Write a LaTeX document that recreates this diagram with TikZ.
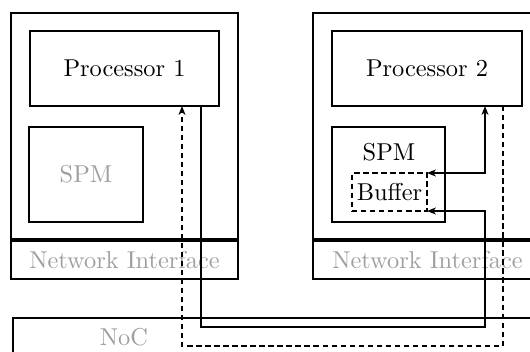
\documentclass[tikz,border=0pt]{standalone}
\usetikzlibrary{fit,arrows.meta}
\begin{document}
\begin{tikzpicture}[
  x=0.41pt, y=-0.41pt,
  box/.style={draw, line width=0.7pt, inner sep=0pt, outer sep=0pt},
  faint/.style={text=black!38},
  conn/.style={line width=0.7pt, >={Stealth[length=3.6pt,width=2.8pt,inset=1pt]}},
  dconn/.style={conn, dash pattern=on 2.2pt off 1.5pt},
]
\useasboundingbox (0,0) rectangle (530,352);
\clip (0,0) rectangle (530,352);

% interconnect
\node[box, fit={(13,318)(560,390)}] (noc) {};
\node[faint] (noclabel) at (124,337) {NoC};

% tile 1
\node[box, fit={(11,13)(238,239)}] (tile1) {};
\node[box, fit={(11,241)(238,279)}] (ni1) {};
\node[faint] (ni1label) at (ni1.center) {Network Interface};
\node[box, fit={(30,31)(219,106)}] (p1) {};
\node (p1label) at (p1.center) {Processor 1};
\node[box, fit={(29,127)(143,222)}] (spm1) {};
\node[faint] (spm1label) at (spm1.center) {SPM};

% tile 2
\node[box, fit={(313,13)(542,239)}] (tile2) {};
\node[box, fit={(313,241)(542,279)}] (ni2) {};
\node[faint] (ni2label) at (ni2.center) {Network Interface};
\node[box, fit={(332,31)(522,106)}] (p2) {};
\node (p2label) at (p2.center) {Processor 2};
\node[box, fit={(332,127)(445,222)}] (spm2) {};
\node (spm2label) at (389,152) {SPM};
\node[box, dash pattern=on 2.2pt off 1.5pt, fit={(352,173)(427,211)}] (buf) {};
\node (buflabel) at (buf.center) {Buffer};

% routing points
\coordinate (a1) at (201,327);
\coordinate (a2) at (485,327);
\coordinate (b1) at (503,346);
\coordinate (b2) at (182,346);
\coordinate (c1) at (485,173);

% write from processor 1 into the remote buffer
\draw[conn, ->] (p1.south -| a1) -- (a1) -- (a2) |- (buf.south east);
% reply path back to processor 1
\draw[dconn, ->] (p2.south -| b1) -- (b1) -- (b2) -- (p1.south -| b2);
% local access between processor 2 and its buffer
\draw[conn, <->] (p2.south -| c1) |- (buf.north east);
\end{tikzpicture}
\end{document}
